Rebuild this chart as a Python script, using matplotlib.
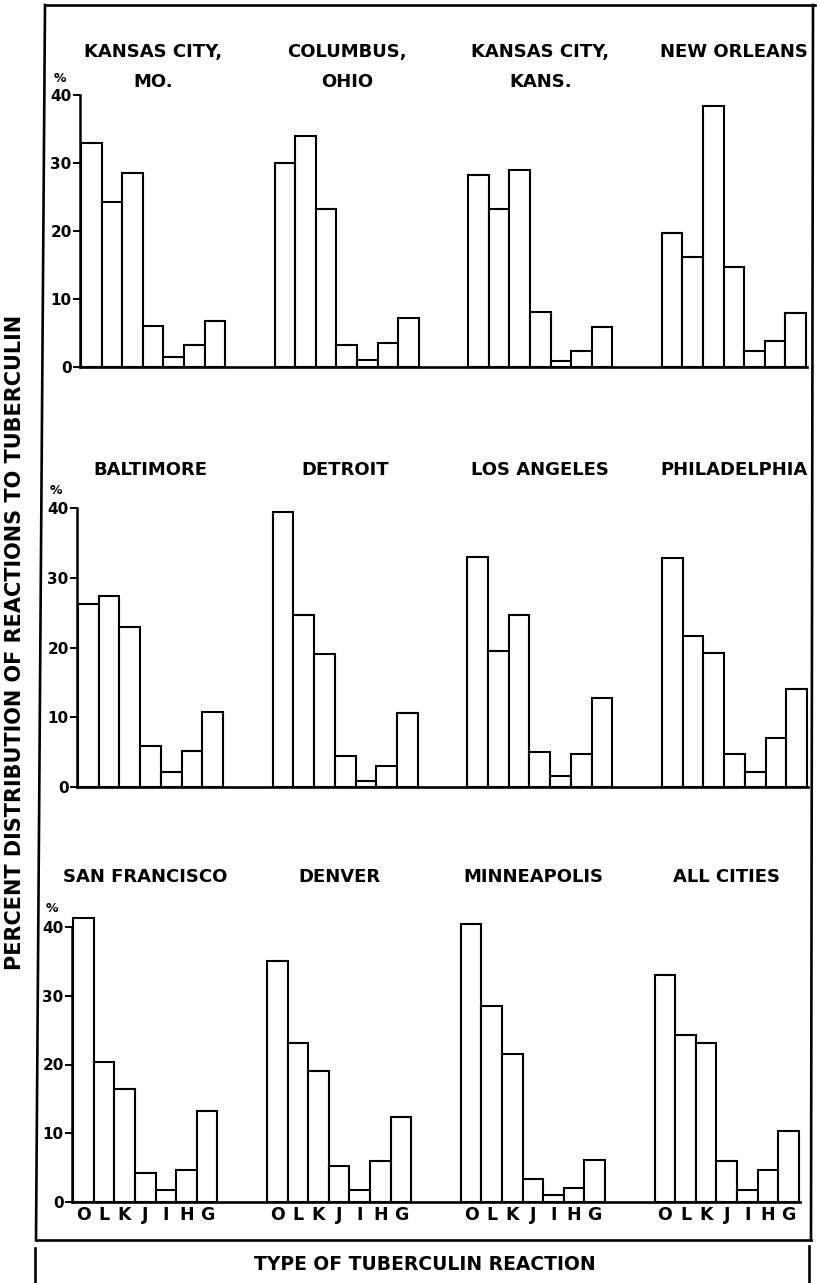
import matplotlib
matplotlib.use("Agg")
import matplotlib.pyplot as plt

plt.rcParams['font.family'] = ['DejaVu Sans']
plt.rcParams['font.weight'] = 'bold'

# reaction types, in the order of the bars
reactions = ['O', 'L', 'K', 'J', 'I', 'H', 'G']

# city panels, three rows of four
row1_cities = ['KANSAS CITY,\nMO.', 'COLUMBUS,\nOHIO', 'KANSAS CITY,\nKANS.', 'NEW ORLEANS']
row2_cities = ['BALTIMORE', 'DETROIT', 'LOS ANGELES', 'PHILADELPHIA']
row3_cities = ['SAN FRANCISCO', 'DENVER', 'MINNEAPOLIS', 'ALL CITIES']

# percent distribution of reactions (O L K J I H G)
kansas_city_mo = [33.0, 24.3, 28.5, 6.1, 1.4, 3.2, 6.7]
columbus = [30.0, 34.0, 23.3, 3.3, 1.1, 3.6, 7.2]
kansas_city_kans = [28.2, 23.3, 28.9, 8.1, 0.9, 2.4, 5.9]
new_orleans = [19.7, 16.2, 38.4, 14.7, 2.3, 3.8, 7.9]

baltimore = [26.3, 27.4, 23.0, 5.9, 2.2, 5.1, 10.8]
detroit = [39.4, 24.7, 19.0, 4.5, 0.9, 3.0, 10.6]
los_angeles = [33.0, 19.5, 24.6, 5.0, 1.6, 4.8, 12.7]
philadelphia = [32.9, 21.6, 19.2, 4.7, 2.1, 7.0, 14.1]

san_francisco = [41.3, 20.3, 16.4, 4.2, 1.7, 4.6, 13.2]
denver = [35.0, 23.1, 19.0, 5.3, 1.7, 6.0, 12.3]
minneapolis = [40.5, 28.5, 21.5, 3.4, 1.0, 2.0, 6.1]
all_cities = [33.0, 24.3, 23.2, 6.0, 1.7, 4.7, 10.4]

row1_values = [kansas_city_mo, columbus, kansas_city_kans, new_orleans]
row2_values = [baltimore, detroit, los_angeles, philadelphia]
row3_values = [san_francisco, denver, minneapolis, all_cities]

W, H = 818, 1283
fig = plt.figure(figsize=(W / 100, H / 100), dpi=100)

# overlay in pixel coordinates for the frame and loose text
frame = fig.add_axes([0, 0, 1, 1])
frame.set_xlim(0, W)
frame.set_ylim(H, 0)
frame.axis('off')

lw_frame = 1.9
frame.plot([45, 815], [5, 5], color='black', lw=lw_frame)
frame.plot([45, 36], [5, 1240], color='black', lw=lw_frame)
frame.plot([36, 811], [1240, 1240], color='black', lw=lw_frame)
frame.plot([813, 811], [5, 1240], color='black', lw=lw_frame)
frame.plot([35, 35], [1248, 1283], color='black', lw=lw_frame)
frame.plot([809, 809], [1246, 1283], color='black', lw=lw_frame)

frame.text(15, 642, 'PERCENT DISTRIBUTION OF REACTIONS TO TUBERCULIN',
           rotation=90, ha='center', va='center', fontsize=15)
frame.text(425, 1264, 'TYPE OF TUBERCULIN REACTION', ha='center', va='center', fontsize=13.5)

# (axis x, y of 0, y of 40, right end, title y, % position)
rows = [
    (row1_cities, row1_values, 80, 367, 95, 807, 52, (60, 78)),
    (row2_cities, row2_values, 77, 787, 508, 808, 470, (56, 491)),
    (row3_cities, row3_values, 72, 1202, 927, 800, 877, (52, 908)),
]

group_step = 9.4
x_max = 35.3

for r, (cities, values, x0, y0, y40, x1, title_y, pct) in enumerate(rows):
    ax = fig.add_axes([x0 / W, 1 - y0 / H, (x1 - x0) / W, (y0 - y40) / H])
    ax.set_xlim(0, x_max)
    ax.set_ylim(0, 40)

    centers = []
    for g, (city, vals) in enumerate(zip(cities, values)):
        start = 0.05 + g * group_step
        xs = [start + i for i in range(len(reactions))]
        ax.bar(xs, vals, width=1, align='edge', facecolor='white',
               edgecolor='black', linewidth=1.5, clip_on=False, zorder=2)
        centers += [x + 0.5 for x in xs]

        # city title centred over its group
        for k, line in enumerate(city.split('\n')):
            ty = (y0 - (title_y + 30 * k)) / (y0 - y40)
            ax.text(start + 3.5, ty, line, transform=ax.get_xaxis_transform(),
                    ha='center', va='center', fontsize=13, clip_on=False)

    for side in ['top', 'right']:
        ax.spines[side].set_visible(False)
    ax.spines['left'].set_bounds(0, 40)
    ax.spines['left'].set_linewidth(1.8)
    ax.spines['bottom'].set_linewidth(1.9)
    ax.spines['bottom'].set_zorder(3)

    ax.set_yticks([0, 10, 20, 30, 40])
    ax.tick_params(axis='y', length=5, width=1.4, pad=1, labelsize=11)
    if r == 2:
        ax.set_xticks(centers)
        ax.set_xticklabels(reactions * 4)
        ax.tick_params(axis='x', length=0, pad=3, labelsize=12.5)
    else:
        ax.set_xticks([])
    ax.patch.set_alpha(0)

    frame.text(pct[0], pct[1], '%', ha='center', va='center', fontsize=9)

fig.savefig('out.png', dpi=100)
